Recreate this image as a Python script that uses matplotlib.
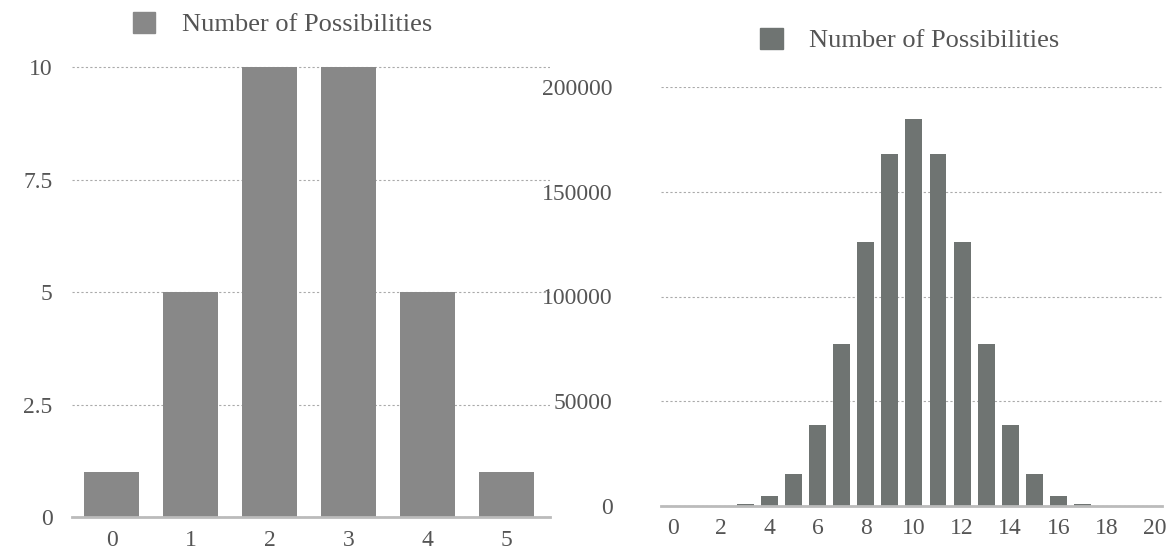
import numpy as np
import matplotlib.pyplot as plt
from matplotlib.patches import Patch

plt.rcParams['font.family'] = ['Liberation Serif', 'DejaVu Serif']

# left chart: 5 choose k
k5 = [0, 1, 2, 3, 4, 5]
ways5 = [1, 5, 10, 10, 5, 1]

# right chart: 20 choose k
k20 = list(range(21))
ways20 = [1, 20, 190, 1140, 4845, 15504, 38760, 77520, 125970, 167960,
          184756, 167960, 125970, 77520, 38760, 15504, 4845, 1140, 190, 20, 1]

label = "Number of Possibilities"
txt = '#555555'
fs = 19
tfs = 17

fig = plt.figure(figsize=(11.73, 5.54), dpi=100)
W, H = 1173, 554

def style(ax, yticks, ylabels):
    ax.set_yticks(yticks)
    ax.set_yticklabels(ylabels)
    for s in ['top', 'right', 'left']:
        ax.spines[s].set_visible(False)
    ax.spines['bottom'].set_color('#bbbbbb')
    ax.spines['bottom'].set_linewidth(2)
    ax.yaxis.grid(True, linestyle=(0, (2, 2)), color='#aaaaaa', linewidth=0.8)
    ax.set_axisbelow(True)
    ax.tick_params(length=0, labelsize=tfs, labelcolor=txt)
    ax.tick_params(axis='x', pad=9)

# left
ax1 = fig.add_axes([72 / W, 1 - 517 / H, (550 - 72) / W, (517 - 65) / H])
ax1.bar(k5, ways5, width=0.7, color='#888888')
ax1.set_xlim(-0.5, 5.55)
ax1.set_ylim(0, 10.05)
ax1.set_xticks(k5)
style(ax1, [0, 2.5, 5, 7.5, 10], ['0', '2.5', '5', '7.5', '10'])
ax1.tick_params(axis='y', pad=14)
ax1.legend(handles=[Patch(color='#888888', label=label)], loc='lower center',
           bbox_to_anchor=(0.44, 1.011), frameon=False, fontsize=fs,
           handlelength=0.85, handleheight=0.85, labelcolor=txt, handletextpad=1.0)

# right
ax2 = fig.add_axes([661 / W, 1 - 506 / H, (1162 - 661) / W, (506 - 87) / H])
ax2.bar(k20, ways20, width=0.7, color='#6f7472')
ax2.set_xlim(-0.5, 20.3)
ax2.set_ylim(0, 200000)
ax2.set_xticks(range(0, 21, 2))
style(ax2, [0, 50000, 100000, 150000, 200000],
      ['0', '50000', '100000', '150000', '200000'])
ax2.tick_params(axis='y', pad=35)
ax2.legend(handles=[Patch(color='#6f7472', label=label)], loc='lower center',
           bbox_to_anchor=(0.497, 1.026), frameon=False, fontsize=fs,
           handlelength=0.85, handleheight=0.85, labelcolor=txt, handletextpad=1.0)

fig.savefig('out.png', dpi=100)
